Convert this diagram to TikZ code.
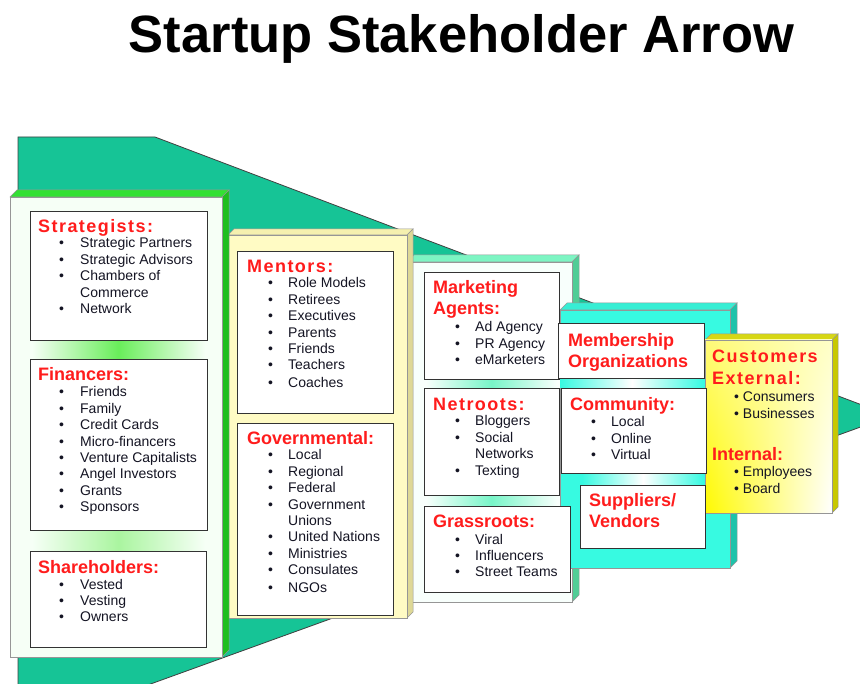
\documentclass[tikz,border=0pt]{standalone}
\usepackage{fontspec}
\usetikzlibrary{shadings}
\setmainfont{Liberation Sans}
\newfontfamily\spfont[LetterSpace=8]{Liberation Sans}
\definecolor{arrowgreen}{RGB}{22,196,150}
\definecolor{hred}{RGB}{255,28,28}
\definecolor{txt}{RGB}{20,20,35}
\definecolor{pedge}{RGB}{150,150,150}
\definecolor{pAf}{RGB}{246,255,246}\definecolor{pAt}{RGB}{51,224,51}\definecolor{pAs}{RGB}{30,190,30}
\definecolor{pBf}{RGB}{255,251,196}\definecolor{pBt}{RGB}{245,240,175}\definecolor{pBs}{RGB}{222,216,150}
\definecolor{pCf}{RGB}{248,255,252}\definecolor{pCt}{RGB}{125,245,195}\definecolor{pCs}{RGB}{80,205,150}
\definecolor{pDf}{RGB}{55,250,225}\definecolor{pDt}{RGB}{55,238,212}\definecolor{pDs}{RGB}{30,195,170}
\definecolor{pEt}{RGB}{215,215,20}\definecolor{pEs}{RGB}{200,200,0}
\definecolor{pEul}{RGB}{255,250,120}\definecolor{pEur}{RGB}{255,255,200}\definecolor{pEll}{RGB}{255,250,0}
\definecolor{glowA}{RGB}{105,238,90}
\definecolor{glowB}{RGB}{170,245,160}
\definecolor{glowC}{RGB}{120,245,200}
\newcommand\mypanel[8]{%
  \filldraw[fill=#7, draw=pedge, line width=0.5pt] (#1,#2) -- (#1+#5,#2-#5) -- (#3+#5,#2-#5) -- (#3,#2) -- cycle;
  \filldraw[fill=#8, draw=pedge, line width=0.5pt] (#3,#2) -- (#3+#5,#2-#5) -- (#3+#5,#4-#5) -- (#3,#4) -- cycle;
  \filldraw[fill=#6, draw=pedge, line width=0.5pt] (#1,#2) rectangle (#3,#4);}
\tikzset{
  ibox/.style={draw=black!80, line width=1.1pt, fill=white, anchor=north west, inner sep=0pt},
  hdr/.style={anchor=base west, inner sep=0pt, font=\fontsize{18}{21}\selectfont\bfseries, text=hred},
  hdrsp/.style={anchor=base west, inner sep=0pt, font=\fontsize{18}{21}\selectfont\spfont\bfseries, text=hred},
  lst/.style={anchor=base west, inner sep=0pt, font=\fontsize{14}{16.4}\selectfont, text=txt},
}
\newcommand\blist[2]{\begin{tabular}[t]{@{}p{#1}@{}l@{}}#2\end{tabular}}
\newcommand\hl[1]{\begin{tabular}[t]{@{}l@{}}#1\end{tabular}}
\begin{document}
\begin{tikzpicture}[x=1pt,y=-1pt]
\useasboundingbox (0,0) rectangle (860,684);
% title
\node[anchor=base, inner sep=0pt, font=\fontsize{52.5}{52.5}\selectfont\bfseries] (title) at (461.5,53) {Startup Stakeholder Arrow};
% big arrow
\begin{scope}
\clip (0,0) rectangle (860,684);
\filldraw[fill=arrowgreen, draw=black!75, line width=0.8pt] (18,137) -- (155,137) -- (891,416) -- (134,690) -- (18,690) -- cycle;
\end{scope}
% panels (back to front)
\mypanel{407}{262}{572}{602}{7}{pCf}{pCt}{pCs}
\mypanel{560}{310}{730}{568}{7}{pDf}{pDt}{pDs}
% panel 5 (shaded)
\filldraw[fill=pEt, draw=pedge, line width=0.5pt] (705,340) -- (711,334) -- (838,334) -- (832,340) -- cycle;
\filldraw[fill=pEs, draw=pedge, line width=0.5pt] (832,340) -- (838,334) -- (838,507) -- (832,513) -- cycle;
\shade[upper left=pEul, upper right=pEur, lower left=pEll, lower right=white] (705,340) rectangle (832,513);
\draw[pedge, line width=0.5pt] (705,340) rectangle (832,513);
\mypanel{228}{235}{407}{618}{6}{pBf}{pBt}{pBs}
\mypanel{10}{197}{222}{657}{7}{pAf}{pAt}{pAs}
% glows between boxes
\shade[left color=pAf, right color=pAf, middle color=glowA] (32,340) rectangle (205,359);
\shade[left color=pAf, right color=pAf, middle color=glowB] (32,530) rectangle (205,551);
\shade[left color=pCf, right color=pCf, middle color=glowC] (426,379) rectangle (557,388);
\shade[left color=pCf, right color=pCf, middle color=glowC] (426,495) rectangle (557,506);
\shade[left color=pDf, right color=pDf, middle color=white] (560,378) rectangle (704,388);
\shade[left color=pDf, right color=pDf, middle color=white] (582,473) rectangle (704,485);
% inner boxes
\node[ibox, minimum width=177pt, minimum height=129pt] (strat) at (30,211) {};
\node[ibox, minimum width=177pt, minimum height=171pt] (fin) at (30,359) {};
\node[ibox, minimum width=176pt, minimum height=96pt] (share) at (30,551) {};
\node[ibox, minimum width=156pt, minimum height=162pt] (ment) at (237,251) {};
\node[ibox, minimum width=156pt, minimum height=192pt] (gov) at (237,423) {};
\node[ibox, minimum width=135pt, minimum height=107pt] (mkt) at (424,272) {};
\node[ibox, minimum width=135pt, minimum height=107pt] (net) at (424,388) {};
\node[ibox, minimum width=146pt, minimum height=86pt] (grass) at (424,506) {};
\node[ibox, minimum width=146pt, minimum height=55pt] (memb) at (558,323) {};
\node[ibox, minimum width=145pt, minimum height=85pt] (comm) at (561,388) {};
\node[ibox, minimum width=125pt, minimum height=63pt] (supp) at (580,485) {};
% texts: panel 1
\node[hdrsp] (stratH) at (38,233) {Strategists:};
\node[lst] (stratL) at (59,248) {\blist{21pt}{\textbullet & Strategic Partners\\ \textbullet & Strategic Advisors\\ \textbullet & Chambers of\\ & Commerce\\ \textbullet & Network}};
\node[hdr] (finH) at (38,381) {Financers:};
\node[lst] (finL) at (59,397) {\blist{21pt}{\textbullet & Friends\\ \textbullet & Family\\ \textbullet & Credit Cards\\ \textbullet & Micro-financers\\ \textbullet & Venture Capitalists\\ \textbullet & Angel Investors\\ \textbullet & Grants\\ \textbullet & Sponsors}};
\node[hdr] (shareH) at (38,573) {Shareholders:};
\node[lst] (shareL) at (59,589) {\blist{21pt}{\textbullet & Vested\\ \textbullet & Vesting\\ \textbullet & Owners}};
% panel 2
\node[hdrsp] (mentH) at (247,273) {Mentors:};
\node[lst] (mentL) at (268,288) {\blist{20pt}{\textbullet & Role Models\\ \textbullet & Retirees\\ \textbullet & Executives\\ \textbullet & Parents\\ \textbullet & Friends\\ \textbullet & Teachers\\[1.5pt] \textbullet & Coaches}};
\node[hdr] (govH) at (247,445) {Governmental:};
\node[lst] (govL) at (268,460) {\blist{20pt}{\textbullet & Local\\ \textbullet & Regional\\ \textbullet & Federal\\ \textbullet & Government\\ & Unions\\ \textbullet & United Nations\\ \textbullet & Ministries\\ \textbullet & Consulates\\[1pt] \textbullet & NGOs}};
% panel 3
\node[hdr] (mktH) at (433,294) {\hl{Marketing\\ Agents:}};
\node[lst] (mktL) at (455,332) {\blist{20pt}{\textbullet & Ad Agency\\ \textbullet & PR Agency\\ \textbullet & eMarketers}};
\node[hdrsp] (netH) at (433,411) {Netroots:};
\node[lst] (netL) at (455,426) {\blist{20pt}{\textbullet & Bloggers\\ \textbullet & Social\\ & Networks\\ \textbullet & Texting}};
\node[hdr] (grassH) at (433,528) {Grassroots:};
\node[lst] (grassL) at (455,544) {\blist{20pt}{\textbullet & Viral\\ \textbullet & Influencers\\ \textbullet & Street Teams}};
% panel 4
\node[hdr] (membH) at (568,347) {\hl{Membership\\ Organizations}};
\node[hdr] (commH) at (570,411) {Community:};
\node[lst] (commL) at (591,427) {\blist{20pt}{\textbullet & Local\\ \textbullet & Online\\ \textbullet & Virtual}};
\node[hdr] (suppH) at (589,507) {\hl{Suppliers/\\ Vendors}};
% panel 5
\node[hdrsp] (custH) at (712,363) {\hl{Customers\\[1pt] External:}};
\node[lst] (extL) at (734,402) {\hl{\textbullet\ Consumers\\ \textbullet\ Businesses}};
\node[hdr] (intH) at (712,461) {Internal:};
\node[lst] (intL) at (734,477) {\hl{\textbullet\ Employees\\ \textbullet\ Board}};
\end{tikzpicture}
\end{document}
